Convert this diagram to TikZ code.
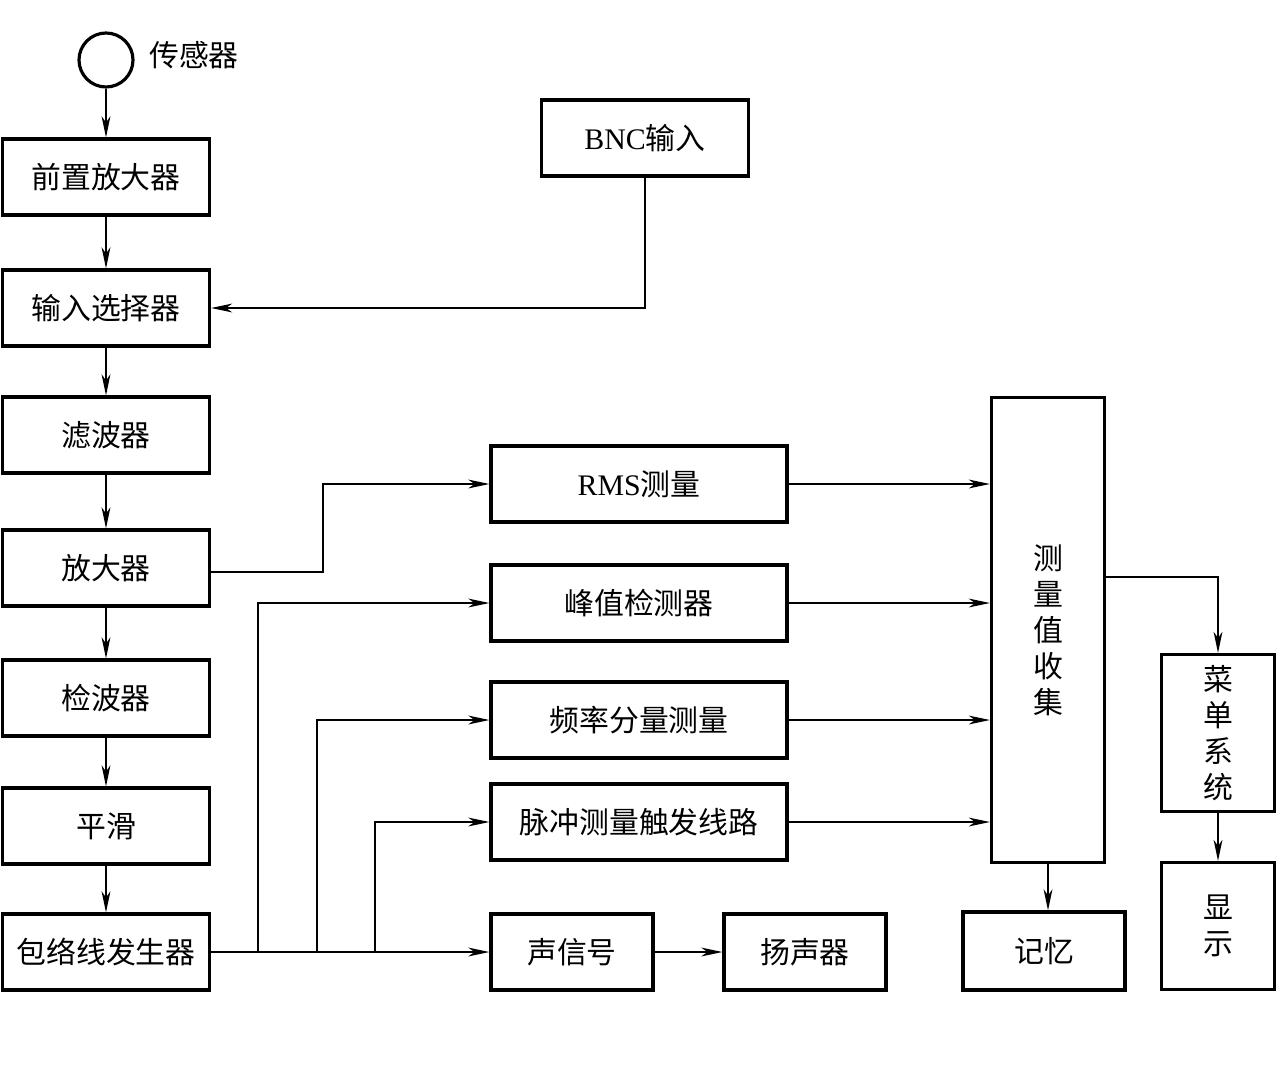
\documentclass[tikz,border=0pt]{standalone}
\usepackage{fontspec}
\usepackage{tikz}
\usetikzlibrary{arrows.meta}
\setmainfont{Liberation Serif}
\newfontfamily\cjk{Noto Sans CJK SC}

\begin{document}
\begin{tikzpicture}[
    x=0.02cm, y=-0.02cm,
    every node/.style={font=\cjk\fontsize{17}{20.5}\selectfont},
    block/.style={rectangle, draw, line width=1.8pt, inner sep=0pt, minimum width=4.14cm, minimum height=1.52cm},
    midblock/.style={block, minimum width=5.92cm},
    smallblock/.style={block, minimum width=3.24cm},
    tallblock/.style={block, minimum width=2.26cm, align=center},
    arrow/.style={-{Stealth[length=12pt, width=5pt, inset=3.5pt]}, line width=1.1pt}
]
\useasboundingbox (0,0) rectangle (1283,1075);

% left column
\node[circle, draw, line width=1.8pt, minimum size=1.08cm, inner sep=0pt] (sensor) at (106,60) {};
\node[anchor=west] (sensorlabel) at (143,55) {传感器};
\node[block] (preamp) at (106,177) {前置放大器};
\node[block] (select) at (106,308) {输入选择器};
\node[block] (filter) at (106,435) {滤波器};
\node[block] (amp) at (106,568) {放大器};
\node[block] (detect) at (106,698) {检波器};
\node[block] (smooth) at (106,826) {平滑};
\node[block] (env) at (106,952) {包络线发生器};
\node[block] (bnc) at (645,138) {{\rmfamily BNC}输入};

% middle column
\node[midblock] (rms) at (639,484) {{\rmfamily RMS}测量};
\node[midblock] (peak) at (639,603) {峰值检测器};
\node[midblock] (freq) at (639,720) {频率分量测量};
\node[midblock] (pulse) at (639,822) {脉冲测量触发线路};
\node[smallblock] (sound) at (572,952) {声信号};
\node[smallblock] (speaker) at (805,952) {扬声器};

% right part
\node[tallblock, minimum height=9.3cm] (collect) at (1048,630) {测\\量\\值\\收\\集};
\node[smallblock, minimum height=1.56cm] (memory) at (1044,951) {记忆};
\node[tallblock, minimum height=3.14cm] (menu) at (1218,733) {菜\\单\\系\\统};
\node[tallblock, minimum height=2.54cm] (display) at (1218,926) {显\\示};

\coordinate (b1) at (258,952);
\coordinate (b2) at (317,952);
\coordinate (b3) at (375,952);

\draw[arrow] (sensor) -- (preamp);
\draw[arrow] (preamp) -- (select);
\draw[arrow] (select) -- (filter);
\draw[arrow] (filter) -- (amp);
\draw[arrow] (amp) -- (detect);
\draw[arrow] (detect) -- (smooth);
\draw[arrow] (smooth) -- (env);
\draw[arrow] (bnc.south) |- (select.east);

\draw[arrow] (amp.east |- 0,572) -- (323,572) |- (rms.west);
\draw[arrow] (env.east) -- (sound.west);
\draw[arrow] (b1) |- (peak.west);
\draw[arrow] (b2) |- (freq.west);
\draw[arrow] (b3) |- (pulse.west);
\draw[arrow] (sound) -- (speaker);

\draw[arrow] (rms.east) -- (rms.east -| collect.west);
\draw[arrow] (peak.east) -- (peak.east -| collect.west);
\draw[arrow] (freq.east) -- (freq.east -| collect.west);
\draw[arrow] (pulse.east) -- (pulse.east -| collect.west);
\draw[arrow] (collect.east |- 0,577) -| (menu.north);
\draw[arrow] (collect.south) -- (collect.south |- memory.north);
\draw[arrow] (menu) -- (display);

\end{tikzpicture}
\end{document}
